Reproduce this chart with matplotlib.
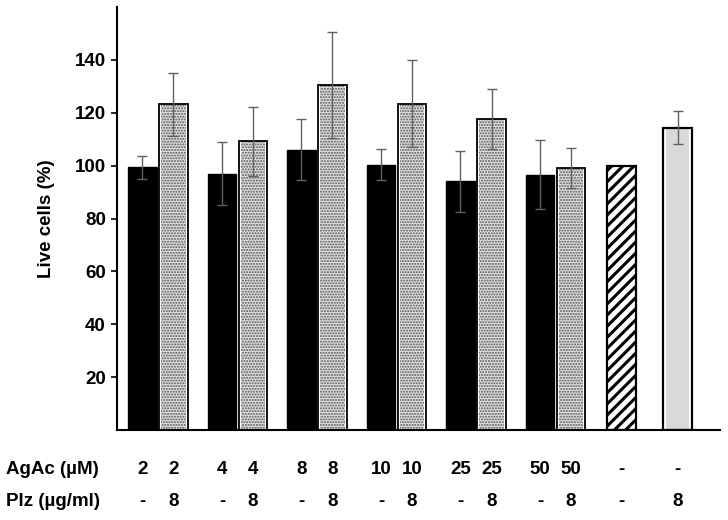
import numpy as np
import matplotlib
matplotlib.use("Agg")
from matplotlib import pyplot as plt
from matplotlib.transforms import blended_transform_factory

plt.rcParams['font.family'] = ['Liberation Sans', 'DejaVu Sans']

# data
agac = ['2', '2', '4', '4', '8', '8', '10', '10', '25', '25', '50', '50', '-', '-']
plz = ['-', '8', '-', '8', '-', '8', '-', '8', '-', '8', '-', '8', '-', '8']
live = [99.4, 123.2, 97.0, 109.2, 106.0, 130.5, 100.3, 123.5, 94.1, 117.6, 96.6, 99.0, 100.0, 114.4]
err = [4.4, 11.9, 11.9, 13.0, 11.5, 20.2, 5.9, 16.5, 11.5, 11.3, 13.1, 7.6, 0.0, 6.3]
kind = ['solid', 'dots'] * 6 + ['hatch', 'gray']

# bar positions (pairs, then the two controls)
pos = []
for g in range(6):
    pos += [g * 2.565, g * 2.565 + 1.0]
pos += [15.45, 17.26]
w = 0.91
fs = 13.5

fig = plt.figure(figsize=(7.28, 5.2), dpi=100)
ax = fig.add_axes([0.1607, 0.173, 0.8283, 0.8135])

for x, v, e, k in zip(pos, live, err, kind):
    if k == 'solid':
        ax.bar(x, v, w, color='black', edgecolor='black', linewidth=1.0, zorder=2)
    elif k == 'dots':
        ax.bar(x, v, w * 0.88, color='#e2e2e2', edgecolor='#505050', hatch='......', linewidth=0, zorder=2)
        ax.bar(x, v, w, fill=False, edgecolor='black', linewidth=1.3, zorder=3)
    elif k == 'hatch':
        b = ax.bar(x, v, w, color='white', edgecolor='black', hatch='///', linewidth=1.6, zorder=2)
        try:
            b[0].set_hatch_linewidth(2.2)
        except AttributeError:
            pass
    else:
        ax.bar(x, v, w * 0.82, color='#d9d9d9', linewidth=0, zorder=2)
        ax.bar(x, v, w, fill=False, edgecolor='black', linewidth=1.6, zorder=3)
    if e > 0:
        ax.errorbar(x, v, yerr=e, fmt='none', ecolor='#606060', elinewidth=1.0,
                    capsize=3.5, capthick=1.0, zorder=4)

ax.set_xlim(-0.82, 18.63)
ax.set_ylim(0, 160)
ax.set_yticks([20, 40, 60, 80, 100, 120, 140])
ax.tick_params(axis='y', direction='out', length=4, width=1.2, labelsize=fs, pad=4)
ax.set_xticks([])
for lab in ax.get_yticklabels():
    lab.set_fontweight('bold')
ax.spines['top'].set_visible(False)
ax.spines['right'].set_visible(False)
ax.spines['left'].set_linewidth(1.5)
ax.spines['bottom'].set_linewidth(1.5)
ax.set_ylabel('Live cells (%)', fontsize=fs, fontweight='bold', labelpad=14)

# condition table under the bars
tr = blended_transform_factory(ax.transData, fig.transFigure)
y1 = 1 - 469 / 520
y2 = 1 - 501 / 520
for x, a, p in zip(pos, agac, plz):
    ax.text(x, y1, a, transform=tr, ha='center', va='center', fontsize=fs, fontweight='bold')
    ax.text(x, y2, p, transform=tr, ha='center', va='center', fontsize=fs, fontweight='bold')
fig.text(6 / 728, y1, 'AgAc (µM)', ha='left', va='center', fontsize=fs, fontweight='bold')
fig.text(6 / 728, y2, 'Plz (µg/ml)', ha='left', va='center', fontsize=fs, fontweight='bold')

fig.savefig('out.png', dpi=100)
